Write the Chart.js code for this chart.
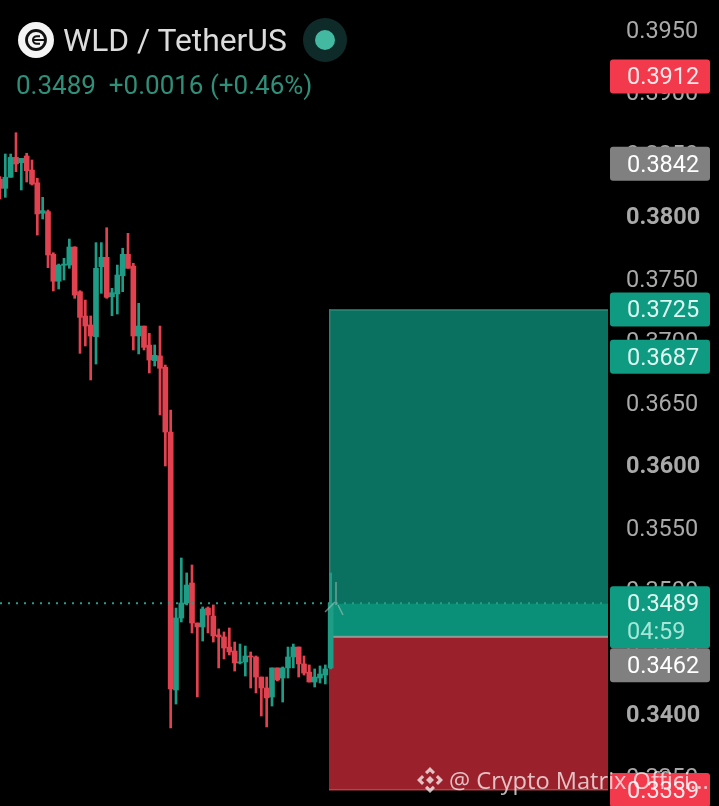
<!DOCTYPE html>
<html>
<head>
<meta charset="utf-8">
<title>WLD / TetherUS</title>
<script src="https://cdn.jsdelivr.net/npm/chart.js@4"></script>
<style>
  html, body { margin: 0; padding: 0; background: #000; }
  #wrap { position: relative; width: 719px; height: 806px; overflow: hidden; }
  #chart { position: absolute; left: 0; top: 0; }
  .txt { position: absolute; white-space: nowrap; font-family: Roboto, sans-serif; }
  #title { left: 63px; top: 21px; font-size: 31.8px; line-height: 38px; color: #dcdcdc; }
  #quote { left: 16px; top: 70px; font-size: 26px; line-height: 30px; color: #2f8f78; }
  #logo, #status, #mark { position: absolute; }
  #logo { left: 18px; top: 22px; }
  #status { left: 303px; top: 18px; }
  #mark { left: 415px; top: 765px; }
  #watermark { left: 449px; top: 764px; font-family: "Open Sans", sans-serif; font-size: 23.6px; line-height: 32px; color: rgba(255,255,255,.72); }
</style>
</head>
<body>
<div id="wrap">
  <canvas id="chart" width="719" height="806"></canvas>
  <svg id="logo" width="36" height="36" viewBox="0 0 36 36">
    <circle cx="18" cy="18" r="18" fill="#f4f4f4"/>
    <circle cx="18" cy="18" r="9.5" fill="none" stroke="#111" stroke-width="2.8"/>
    <path d="M22 14.2h-3.2a3.8 3.8 0 0 0 0 7.6H22" fill="none" stroke="#111" stroke-width="2"/>
    <path d="M15 18h13" stroke="#111" stroke-width="2"/>
  </svg>
  <div id="title" class="txt">WLD / TetherUS</div>
  <svg id="status" width="44" height="44" viewBox="0 0 44 44">
    <circle cx="22" cy="22" r="22" fill="#0f2b29"/>
    <circle cx="22" cy="22" r="10" fill="#43b9a2"/>
  </svg>
  <div id="quote" class="txt">0.3489&nbsp; +0.0016 (+0.46%)</div>
  <svg id="mark" width="30" height="30" viewBox="0 0 30 30" fill="rgba(255,255,255,.72)">
    <path d="M15 2l5 5-2.2 2.2L15 6.4l-2.8 2.8L10 7zM7 10l2.2 2.2L6.4 15l2.8 2.8L7 20l-5-5zM23 10l5 5-5 5-2.2-2.2 2.8-2.8-2.8-2.8zM15 11l4 4-4 4-4-4zM10 23l2.2-2.2 2.8 2.8 2.8-2.8L20 23l-5 5z"/>
  </svg>
  <div id="watermark" class="txt">@ Crypto Matrix Offici...</div>
</div>
<script>
// OHLC, one entry per candle
var opens = [0.38295, 0.38222, 0.38311, 0.38471, 0.38428, 0.38482, 0.38369, 0.38267, 0.38022, 0.38035,
  0.37692, 0.37476, 0.37604, 0.37606, 0.37751, 0.37392, 0.37197, 0.37125, 0.37031, 0.37593,
  0.37668, 0.37352, 0.37374, 0.3752, 0.37692, 0.37598, 0.37036, 0.37116, 0.36964, 0.36838,
  0.36876, 0.36785, 0.36265, 0.34193, 0.34771, 0.34892, 0.35052, 0.34731, 0.34699, 0.34851,
  0.34787, 0.34635, 0.34619, 0.34538, 0.34506, 0.3441, 0.34418, 0.34466, 0.34458, 0.34297,
  0.34209, 0.34137, 0.3437, 0.34289, 0.3437, 0.34458, 0.34538, 0.34402, 0.34337, 0.34257,
  0.34289, 0.34313, 0.3437];
var closes = [0.38222, 0.38311, 0.38471, 0.38418, 0.38463, 0.38364, 0.38257, 0.38016, 0.38043, 0.37687,
  0.37476, 0.37606, 0.37614, 0.37751, 0.37365, 0.37186, 0.37116, 0.37036, 0.3758, 0.37668,
  0.37347, 0.37384, 0.37526, 0.37692, 0.3758, 0.37036, 0.37116, 0.36945, 0.36843, 0.36881,
  0.36777, 0.36265, 0.34201, 0.34771, 0.34892, 0.35036, 0.34731, 0.34699, 0.34843, 0.34795,
  0.34627, 0.34619, 0.3453, 0.34498, 0.3441, 0.34418, 0.34466, 0.34458, 0.34297, 0.34209,
  0.34129, 0.3437, 0.34273, 0.3437, 0.34458, 0.34538, 0.34402, 0.34329, 0.34257, 0.34297,
  0.34321, 0.34362, 0.3489];
var highs = [0.38316, 0.38498, 0.38498, 0.38669, 0.38463, 0.38504, 0.3845, 0.38303, 0.3815, 0.38048,
  0.37705, 0.37614, 0.3766, 0.37815, 0.37753, 0.374, 0.37325, 0.37197, 0.37786, 0.37786,
  0.37906, 0.37419, 0.37606, 0.37741, 0.37861, 0.3762, 0.37299, 0.37116, 0.37058, 0.36964,
  0.37116, 0.36803, 0.36442, 0.34851, 0.35253, 0.35133, 0.35197, 0.34731, 0.3486, 0.3486,
  0.34876, 0.34683, 0.34659, 0.34691, 0.34578, 0.34562, 0.34546, 0.34498, 0.34466, 0.34297,
  0.34297, 0.3437, 0.3437, 0.34378, 0.34538, 0.34562, 0.34538, 0.34466, 0.34394, 0.34362,
  0.34386, 0.34394, 0.35133];
var lows = [0.38137, 0.3815, 0.38311, 0.38356, 0.38209, 0.38273, 0.38249, 0.37847, 0.37976, 0.37585,
  0.37398, 0.37414, 0.37486, 0.3758, 0.37339, 0.36897, 0.36956, 0.36683, 0.36811, 0.37379,
  0.37339, 0.37199, 0.37213, 0.37392, 0.3758, 0.36924, 0.36892, 0.36924, 0.36739, 0.36795,
  0.36402, 0.35992, 0.33888, 0.3408, 0.34739, 0.34876, 0.34651, 0.34137, 0.34586, 0.34651,
  0.34578, 0.3437, 0.34442, 0.34474, 0.34345, 0.34402, 0.34305, 0.34209, 0.34169, 0.33984,
  0.33896, 0.34064, 0.34265, 0.34096, 0.34289, 0.3437, 0.34297, 0.34313, 0.34257, 0.34217,
  0.34249, 0.34241, 0.34362];

var axisTicks = [0.395, 0.39, 0.385, 0.38, 0.375, 0.37, 0.365, 0.36, 0.355, 0.35, 0.345, 0.34, 0.335];
var boldTicks = [0.38, 0.36, 0.34];

// long position tool levels
var targetPrice = 0.3725;
var lastPrice = 0.3489;
var entryPrice = 0.3462;
var stopPrice = 0.3339;

// right hand price tags, top to bottom
var tagPrices = [0.3912, 0.3842, 0.3725, 0.3687, 0.3489, 0.3462, 0.3339];
var tagKinds = ["red", "grey", "green", "green", "last", "grey", "red"];
var countdown = "04:59";

var UP = "#1f9c86", DOWN = "#e2424f";
var FONT = "Roboto, sans-serif";
var tagStyle = {
    red: { bg: "#f23a4c", fg: "#fbe6e8" },
    grey: { bg: "#808080", fg: "#ffffff" },
    green: { bg: "#0e9b81", fg: "#dff7f1" },
    last: { bg: "#0e9b81", fg: "#dff7f1" }
};

var candleColors = closes.map((c, i) => c >= opens[i] ? UP : DOWN);

// position boxes sit behind the candles
var positionBoxes = {
    id: "positionBoxes",
    beforeDatasetsDraw(chart) {
        var c = chart.ctx, y = chart.scales.y, area = chart.chartArea;
        var left = 329, right = area.right;
        var topY = y.getPixelForValue(targetPrice), lastY = y.getPixelForValue(lastPrice);
        var entryY = y.getPixelForValue(entryPrice), stopY = y.getPixelForValue(stopPrice);
        c.save();
        c.fillStyle = "#0a7160";
        c.fillRect(left, topY, right - left, lastY - topY);
        c.fillStyle = "#0a9078";
        c.fillRect(left, lastY, right - left, entryY - lastY);
        c.fillStyle = "#9a212b";
        c.fillRect(left, entryY, right - left, stopY - entryY);
        // thin lighter edges of the tool
        c.fillStyle = "#2a8474";
        c.fillRect(left, topY, right - left, 1.5);
        c.fillRect(left, topY, 1.5, entryY - topY);
        c.fillStyle = "#8f9a94";
        c.fillRect(left + 3, entryY - 1, right - left - 3, 2);
        c.fillStyle = "#b5434c";
        c.fillRect(left, stopY - 1, right - left, 1.5);
        c.restore();
    }
};

// dotted last price line, little arrow and the tags on top
var overlays = {
    id: "overlays",
    beforeDraw(chart) {
        // Roboto sits high with a middle baseline, nudge the axis labels down
        chart.scales.y.getLabelItems().forEach(item => { item.textOffset += 2.5; });
    },
    afterDraw(chart) {
        var c = chart.ctx, y = chart.scales.y;
        var lastY = y.getPixelForValue(lastPrice);
        c.save();
        c.strokeStyle = "#2a9c88";
        c.lineWidth = 2;
        c.setLineDash([2, 6]);
        c.beginPath();
        c.moveTo(0, lastY);
        c.lineTo(chart.chartArea.right, lastY);
        c.stroke();
        c.setLineDash([]);

        c.strokeStyle = "rgba(170,195,185,.6)";
        c.lineWidth = 1.5;
        c.beginPath();
        c.moveTo(336, 582); c.lineTo(336, 605);
        c.moveTo(335, 602); c.lineTo(325, 612);
        c.moveTo(338, 605); c.lineTo(343, 615);
        c.stroke();

        var prevBottom = -100;
        c.textBaseline = "middle";
        c.textAlign = "left";
        c.font = "23.5px " + FONT;
        tagPrices.forEach((p, i) => {
            var kind = tagKinds[i], st = tagStyle[kind];
            var h = kind === "last" ? 62 : 34;
            var top = y.getPixelForValue(p) - 17;
            if (top < prevBottom) top = prevBottom;
            c.fillStyle = st.bg;
            c.beginPath();
            c.roundRect(610, top, 100, h, 3);
            c.fill();
            c.fillStyle = st.fg;
            c.fillText(p.toFixed(4), 627, top + 19);
            if (kind === "last") {
                c.fillStyle = "#a5e6d8";
                c.fillText(countdown, 627, top + 47);
            }
            prevBottom = top + h;
        });
        c.restore();
    }
};

new Chart(document.getElementById("chart"), {
    type: "bar",
    data: {
        datasets: [
            {
                label: "body",
                data: opens.map((o, i) => ({ x: i, y: [o, closes[i]] })),
                backgroundColor: candleColors,
                barThickness: 5,
                minBarLength: 1,
                order: 1
            },
            {
                label: "wick",
                data: lows.map((l, i) => ({ x: i, y: [l, highs[i]] })),
                backgroundColor: candleColors,
                barThickness: 2,
                order: 2
            }
        ]
    },
    plugins: [positionBoxes, overlays],
    options: {
        responsive: false,
        animation: false,
        grouped: false,
        layout: { padding: 0 },
        plugins: { legend: { display: false }, tooltip: { enabled: false } },
        scales: {
            x: { type: "linear", display: false, min: 0, max: 114, offset: false },
            y: {
                position: "right",
                min: 0.33261,
                max: 0.39735,
                grid: { display: false, drawTicks: false },
                border: { display: false },
                afterBuildTicks: s => { s.ticks = axisTicks.map(v => ({ value: v })); },
                afterFit: s => { s.width = 111; s.paddingTop = 0; s.paddingBottom = 0; },
                ticks: {
                    autoSkip: false,
                    padding: 18,
                    color: "#a9a9a9",
                    callback: v => v.toFixed(4),
                    font: ctx => ({
                        family: FONT,
                        size: 23.5,
                        weight: boldTicks.includes(ctx.tick && ctx.tick.value) ? "bold" : "normal"
                    })
                }
            }
        }
    }
});
</script>
</body>
</html>
